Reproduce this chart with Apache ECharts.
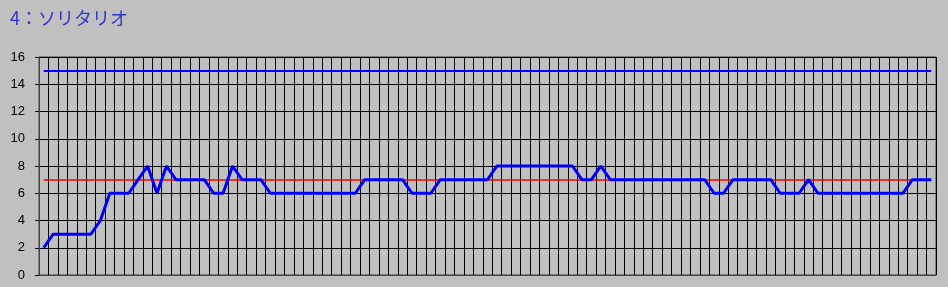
<!DOCTYPE html>
<html>
<head>
<meta charset="utf-8">
<script src="https://cdn.jsdelivr.net/npm/echarts@6/dist/echarts.min.js"></script>
<style>
html,body{margin:0;padding:0;background:#c0c0c0;}
#chart{width:948px;height:287px;}
</style>
</head>
<body>
<div id="chart"></div>
<script>
const titleText = '4：ソリタリオ';
const categories = [1,2,3,4,5,6,7,8,9,10,11,12,13,14,15,16,17,18,19,20,21,22,23,24,25,26,27,28,29,30,31,32,33,34,35,36,37,38,39,40,41,42,43,44,45,46,47,48,49,50,51,52,53,54,55,56,57,58,59,60,61,62,63,64,65,66,67,68,69,70,71,72,73,74,75,76,77,78,79,80,81,82,83,84,85,86,87,88,89,90,91,92,93,94,95];
const scores = [2,3,3,3,3,3,4,6,6,6,7,8,6,8,7,7,7,7,6,6,8,7,7,7,6,6,6,6,6,6,6,6,6,6,7,7,7,7,7,6,6,6,7,7,7,7,7,7,8,8,8,8,8,8,8,8,8,7,7,8,7,7,7,7,7,7,7,7,7,7,7,6,6,7,7,7,7,7,6,6,6,7,6,6,6,6,6,6,6,6,6,6,7,7,7];
const upperLimit = 15;
const averageLine = 7;
const yTicks = [0,2,4,6,8,10,12,14,16];

const chart = echarts.init(document.getElementById('chart'), null, {renderer:'canvas'});
const last = categories.length - 1;
function refLine(value, color, width, z){
  return {type:'line',data:[],symbol:'none',z:z,silent:true,color:color,
    markLine:{silent:true,symbol:'none',label:{show:false},animation:false,
      lineStyle:{color:color,width:width,type:'solid',opacity:1},
      emphasis:{disabled:true},
      data:[[{coord:[0,value]},{coord:[last,value]}]]}};
}
chart.setOption({
  backgroundColor:'#c0c0c0',
  animation:false,
  title:{text:titleText,left:5,top:4,textStyle:{fontSize:18,fontWeight:'normal',color:'#3333cc',fontFamily:'Noto Sans CJK JP'}},
  grid:{left:39,right:12,top:57,bottom:12,show:true,backgroundColor:'#c0c0c0',borderColor:'#404040',borderWidth:1},
  xAxis:{type:'category',data:categories,boundaryGap:true,
    axisLine:{show:true,lineStyle:{color:'#404040'}},axisTick:{show:false},axisLabel:{show:false},
    splitLine:{show:true,interval:0,lineStyle:{color:'#000',width:1}}},
  yAxis:{type:'value',min:yTicks[0],max:yTicks[yTicks.length-1],interval:2,
    axisLine:{show:true,lineStyle:{color:'#404040'}},
    axisTick:{show:true,length:4,lineStyle:{color:'#000'}},
    axisLabel:{margin:14,color:'#000',fontSize:13,fontFamily:'Liberation Sans'},
    splitLine:{show:true,lineStyle:{color:'#000',width:1}}},
  series:[
    refLine(upperLimit,'#0000ff',2,3),
    refLine(averageLine,'#ff0000',1.5,4),
    {type:'line',data:scores,symbol:'none',z:5,
      lineStyle:{color:'#0000ff',width:3}}
  ]
});
</script>
</body>
</html>
